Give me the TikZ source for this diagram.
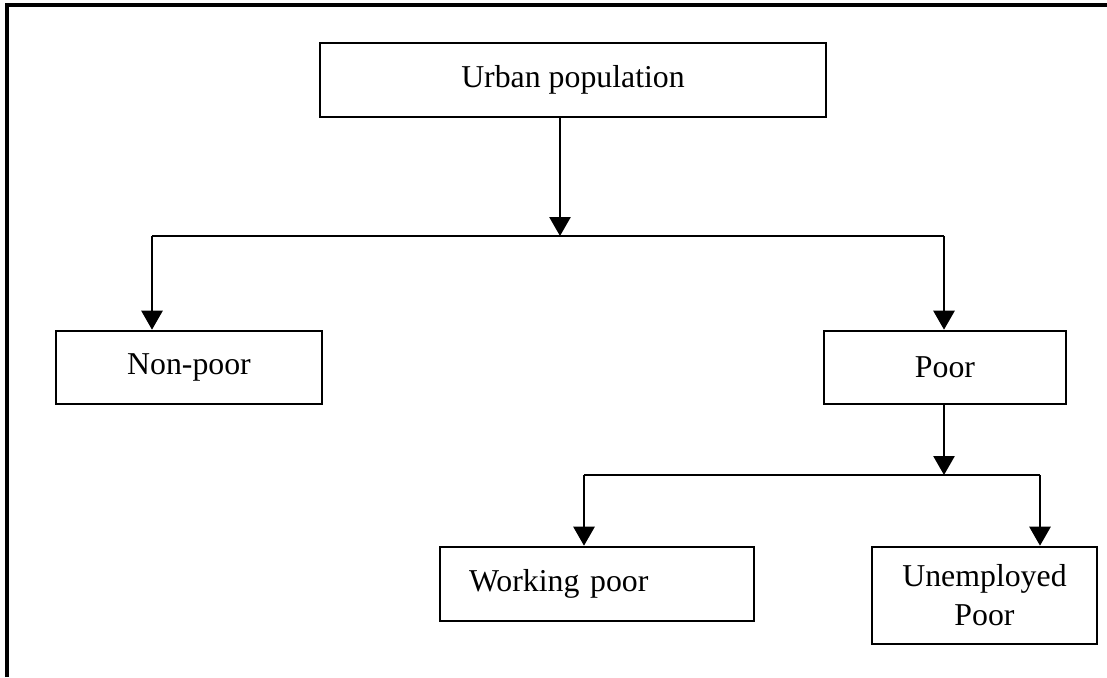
\documentclass[tikz,border=0pt]{standalone}
\usepackage{fontspec}
\setmainfont{Liberation Serif}
\usetikzlibrary{arrows.meta,positioning}

\begin{document}
\begin{tikzpicture}[x=0.5pt, y=-0.5pt,
  box/.style={rectangle, draw=black, line width=1.3pt, inner sep=0pt, align=center, font=\fontsize{15.9}{19.5}\selectfont},
  arr/.style={-{Triangle[length=9.5pt,width=10.5pt]}, line width=1.3pt},
  wire/.style={line width=1.3pt}]
\useasboundingbox (0,0) rectangle (1107,677);
\draw[line width=1.6pt] (7,677) -- (7,5) -- (1107,5);
% boxes
\node[box, minimum width=253pt, minimum height=37pt] (urban) at (573,80) {Urban population};
\node[box, minimum width=133pt, minimum height=36.5pt] (nonpoor) at (189,367.5) {Non-poor};
\node[box, minimum width=121pt, minimum height=36.5pt] (poor) at (945,367.5) {Poor};
\node[box, minimum height=37pt, inner xsep=14.5pt, text width=128pt, align=left] (working) at (597,584) {Working poor};
\node[box, minimum width=112.5pt, minimum height=48.5pt] (unemp) at (984.5,595.5) {Unemployed\\Poor};
% junctions
\coordinate (j1) at (560,236);
\coordinate (j1l) at (152,236);
\coordinate (j1r) at (944,236);
\coordinate (j2) at (944,475);
\coordinate (j2l) at (584,475);
\coordinate (j2r) at (1040,475);
% connectors
\draw[wire] (j1l) -- (j1r);
\draw[arr] (urban.south -| j1) -- (j1);
\draw[arr] (j1l) -- (j1l |- nonpoor.north);
\draw[arr] (j1r) -- (j1r |- poor.north);
\draw[wire] (j2l) -- (j2r);
\draw[arr] (poor.south -| j2) -- (j2);
\draw[arr] (j2l) -- (j2l |- working.north);
\draw[arr] (j2r) -- (j2r |- unemp.north);
\end{tikzpicture}
\end{document}
